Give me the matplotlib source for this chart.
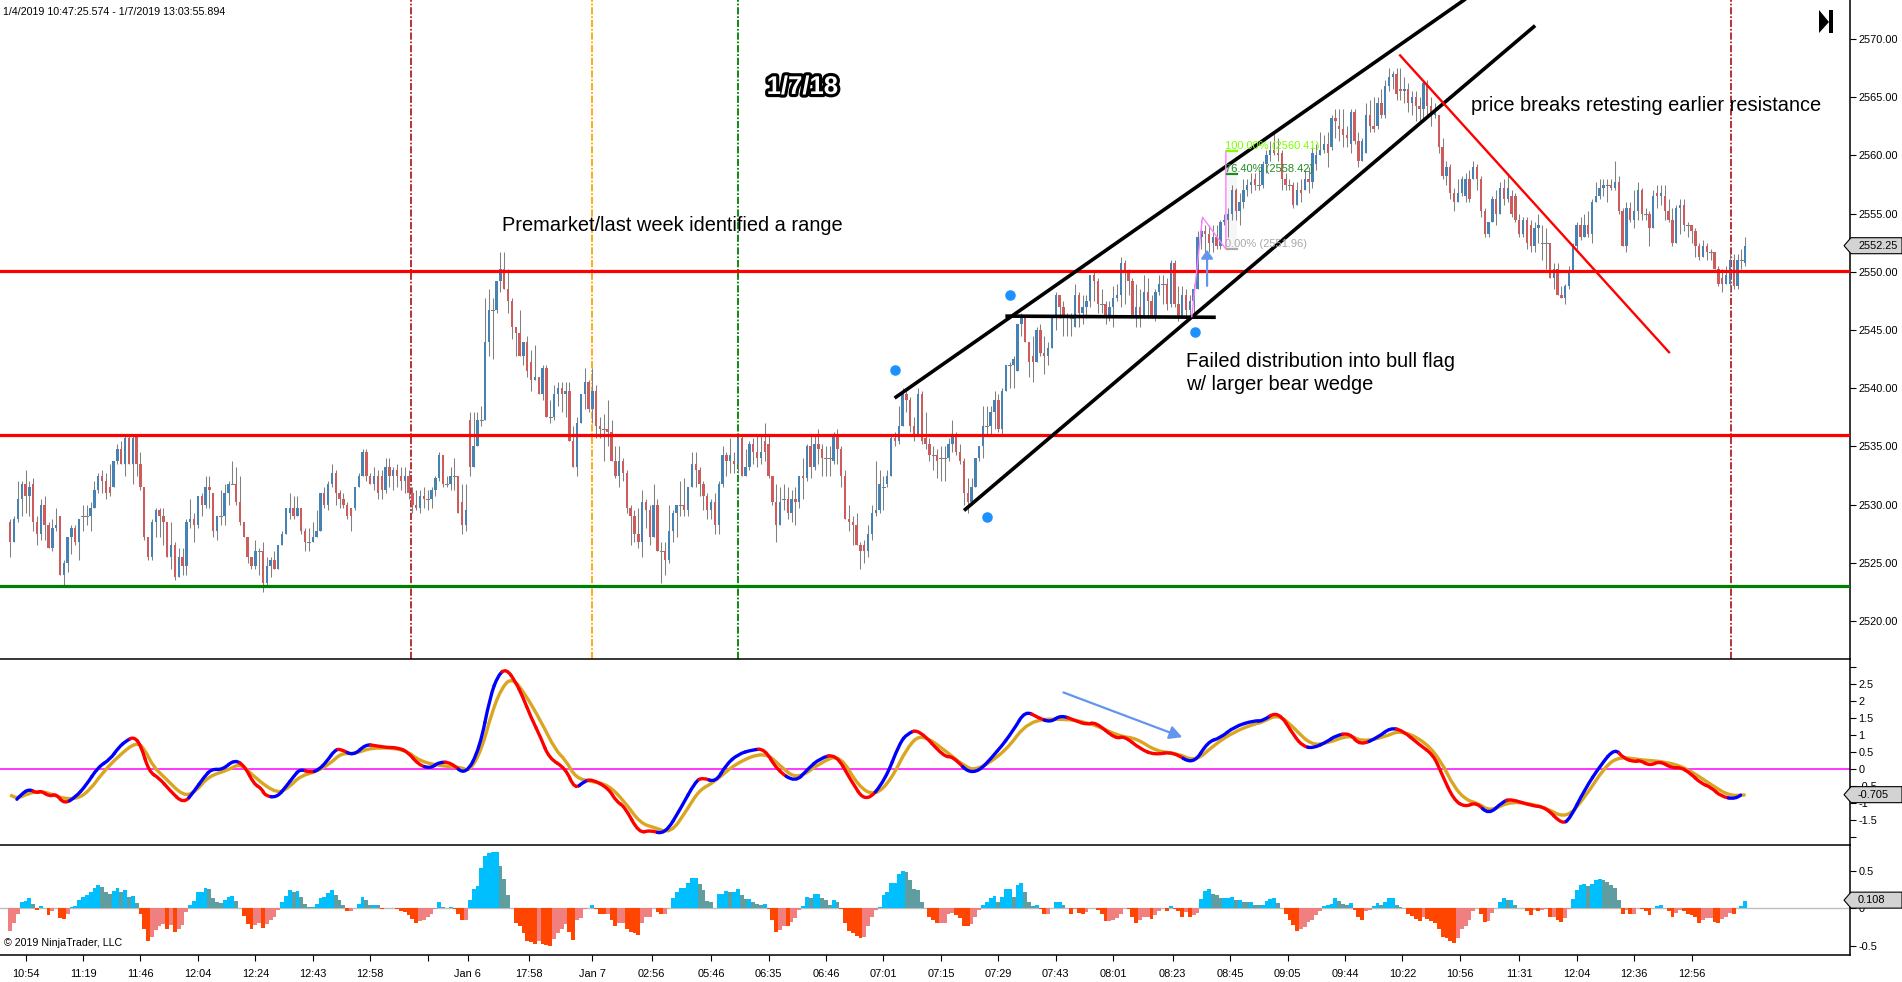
import matplotlib
matplotlib.use("Agg")
import matplotlib.pyplot as plt
import matplotlib.patheffects as pe
from matplotlib.patches import PathPatch, Polygon, Rectangle
from matplotlib.path import Path
from matplotlib.transforms import IdentityTransform

plt.rcParams["font.family"] = ["Liberation Sans", "DejaVu Sans"]

BASE = 2500  # prices below are stored as points above this

opens = [
28.5,26.75,28.75,30.5,31.75,30.75,31.75,28.5,27.5,30,
28.25,26.25,28,29,24,25,27.25,28,26.75,29,
29,29,29.75,31.25,32.5,32,31.5,31.5,33.75,34.75,
33.5,35.75,33.5,36,33.5,31.5,27.25,25.5,28.5,29.5,
29,28.5,25.5,26.5,23.75,25.5,24.75,28.5,28.75,28.25,
30.75,30,31.5,31,27.75,29,29,31,31.75,31.75,
30.25,28.5,27.25,25.5,24.75,26,26,23.25,24.75,25.25,
24.5,26.5,27.5,29.25,29.75,29,29.75,27.75,26.75,26.75,
27.25,27.75,31,30,31.75,32.75,31,30.5,30,29.75,
29.75,31.5,32.5,34.5,32.5,31.75,32.5,32.5,31.25,33.25,
32.5,33,32.5,32,32.5,31,30,29.75,30.75,30.5,
30.5,31.25,32.25,34.25,31.75,31.75,32.5,32.5,30.25,28.25,
37.25,33.25,35,37.25,37.25,44,46.75,46.75,49.25,50.25,
48.5,47.5,45.25,44.75,42.75,44,42.25,40.75,41,39.5,
41.75,37.5,37.5,39.5,40,39.5,39.75,35.5,33.25,37,
39.5,40.5,38.25,39.75,36.75,36.5,36.5,36.25,33.75,32.5,
33.75,32.75,29.75,29,27.5,26.75,30.25,29.5,27.25,30,
26,26,25.25,27.75,29.25,30,30,29.5,31.5,33.5,
33,31.75,30.75,29.5,30.25,28.25,31.75,34.25,33.75,33.75,
33.5,35.75,32.5,33.25,35.25,34.5,34,35.5,35.25,32.5,
30.25,28.25,30.5,30.5,29.25,30.5,30.25,32.5,32.25,35,
33.25,35.25,34.75,34,34,33.75,36,34.75,32.5,28.75,
28.5,28.25,26.5,26.5,26,27.5,29.25,29.5,31.5,31.75,
32.5,35.75,35.5,36.75,39.5,39,36.75,36,39.5,35.75,
35.25,34.25,34.25,34,34,34,35.25,36,34.5,33.75,
31,30.25,31.5,34,35,36.75,36.75,38,39,36.5,
39.75,42,42,41.5,45.5,46,44,42.75,42.25,45,
43,42.75,43.5,46,48,47,46.25,46,45.25,48,
46.5,47,47.5,49.75,49.25,47.25,47.25,46,47,47.75,
48,50.75,50,49.25,46.25,47,46.25,48.25,47.5,46.25,
48.25,49,49,47.25,50.75,47.25,46.25,48,46.75,47.5,
48.5,53,53.5,53.25,52.5,53,52.25,54.25,54.5,55,
57,55.25,56,57,57.5,58,57.5,57.5,59.25,60,
60.5,60.25,60.25,58,57.5,57.5,55.75,57,57,58,
57.75,59.25,60,60.5,61,60.75,63.25,62.5,62.25,61.75,
61,63.75,61.25,59.5,60.25,63.5,62.5,62.5,64.5,63.5,
66,66.75,67,65.75,65.5,65.75,64.5,65,64.25,64,
66.25,64.25,63.5,63.5,60.75,58.25,59,56.75,56,56.75,
56.5,58,58,59,58,55.25,53.25,54.25,56.25,55,
57.25,56.25,56.5,56.5,54.5,53.25,54.5,54,52.25,53.75,
52.5,52.5,52.5,49.5,50.25,48,47.75,48.75,50,52.25,
54,53,54,53.25,56,56.5,57.25,57.5,57.5,57.25,
57.75,55.25,52.25,55.5,54.5,55.25,57,55,55,53.75,
56.75,56.5,56.5,55.25,54.5,52.5,55.5,55.75,54,54,
53.5,52.25,51.25,52.25,51.75,51.75,50.25,49.5,49,49,51,48.75,51,50.75]

closes = [
26.75,28.75,30.5,31.75,30.75,31.5,28.5,27.5,30,28.25,
26.25,28,28.25,24,25,27.25,28,26.75,28.75,29,
29,29.75,31.25,32.5,32,31,31,33.75,34.75,33.5,
35.75,33.5,35.75,33.5,31.5,27.25,25.5,28.5,29.5,29,
28.5,25.5,26.5,23.75,25.5,24.75,28.5,28.75,28.25,30.75,
30,31.5,31.25,27.75,29,29,31,31.75,31.75,30.25,
28.5,27.25,25.5,24.75,26,26,23.25,24.75,25.25,24.5,
26.5,27.5,29.75,29.75,29,29.75,27.75,26.75,26.75,27.25,
27.75,31,30,31.75,32.75,31,30.5,30,29,29,
31.5,32.5,34.5,32.5,31.75,32.5,31,31.25,33.25,32.5,
33,32.5,32,32.5,31,30,29.75,30.75,30.5,30.5,
31.25,32.25,34.25,31.75,31.75,32.5,32.5,29.25,28.25,29.5,
33.25,35,37.25,37.25,44,46.75,46.75,49.25,50.25,48.5,
47.5,45.25,44.75,42.75,44,41.5,40.75,41,39.5,41.75,
37.5,37.5,39.5,40,39.5,39.75,35.5,33.25,37,39.5,
40.5,38.25,39.75,36.75,36.5,36.5,36.25,33.75,32.5,33.75,
32.75,29.75,29,27.5,26.75,30.25,29.5,27.25,30,26,
26,25.25,27.75,29.25,30,30,29.5,31.5,33.5,33,
31.75,30.75,29.5,30.25,28.25,31.75,34.25,33.75,34.25,33.5,
35.75,32.5,33.25,35.25,34.5,34,34.5,34.5,32.5,30.25,
28.25,30.25,30.5,29.25,30.5,30.25,32.5,32.25,35,33.25,
35.25,34.75,34,34,34,36,34.75,32.5,28.75,28.5,
28.25,26.5,26,26,27.5,29.25,29.5,31.75,31.5,32.5,
35.75,35.5,36.75,39.5,39,36.75,36,39.5,35.5,35.25,
34.25,34.25,33.75,34,34,35.25,36,34.5,33.75,31,
30.25,31.5,34,35,36.75,36.75,38,39,36.5,39.75,
42,42,42.5,45.5,46,44,42.25,42.25,45,43,
42.75,43.5,46,48,47,46.25,46,46,48,46.5,
47,47.5,49.75,49.25,47.25,47.25,46,47,47.75,48,
50.75,50,49.25,46.25,47,46.25,48.25,47.5,46.25,48.25,
49,49,47.25,50.75,47.25,46.25,48,46.75,47.5,48.5,
53,53.5,53.25,52.5,53,52.25,54.25,54.5,55,57,
55.25,56,57,57.5,57.75,57.5,57.5,59.25,60,60.5,
60.25,60,58,57.5,57.5,55.75,57,56.75,58,57.75,
60.25,60,60.5,61,60.25,63.25,63,62.25,61.75,61.5,
63.75,61.25,59.5,61.25,63.5,62.5,62.25,64.5,63.5,66,
66.75,67,65.25,65.5,65.75,64.5,65,64.25,64,66.25,
64.25,63.5,63.75,60.75,58.25,59,56.75,56,56.75,58,
58,56.25,59,58,55.25,53.25,54.25,56.25,55,57.25,
56.25,57.25,55,54.5,53.25,54.5,52.5,52.25,53.75,54,
52.5,52.5,49.5,50.25,48,47.75,48.75,50,52.25,54,
53,54,53.25,56,56.5,57.25,57.5,57.5,57.25,57.75,
55.25,52.25,55.5,54.5,55.25,57,55,55,53.75,56.5,
56.5,56.75,55.25,54.5,52.5,55.5,55.75,54,54,53.5,
52.25,51.25,52.25,51.75,51.75,50.25,49,49,49.75,51,48.75,51,51,52.25]

highs = [
28.75,29,32,32,33,32,32.25,29,30.5,30.75,
28.5,28.75,29.75,29,25.25,27.25,28.25,28.25,28.75,30,
30,30.25,32,32.75,33,32.75,33.5,33.75,35.25,35.5,
36,36,36,36,34.5,31.5,27.25,28.75,29.75,29.75,
29.75,28.5,28.5,26.75,26.25,26.25,28.75,30.5,29.25,30.75,
31,32.5,32.5,31,29,31.25,31.75,32,33.75,33.25,
32.5,28.5,27.25,25.5,27,26.25,26.75,25.5,25.5,26,
26.5,27.75,29.75,31,30.75,30.75,29.75,28,28,28.5,
29.5,31,31.5,32,33.5,33,31.25,31,30.25,29.75,
31.5,32.75,34.75,34.75,32.75,33.25,33,33,34,34,
33.25,33.5,33.25,33.25,33,31.5,31.25,31.25,31.5,31.25,
31.5,32.5,34.5,34.25,32.5,33.25,34,32.5,31.75,31.75,
38,38,38,38.5,47.75,48.5,47.75,49.25,51.75,51.75,
50.25,47.75,45.25,46.75,44,44.5,43.25,43.75,41,42,
42,39,40.25,40.5,40.5,40.5,40.5,36.75,37.5,39.5,
41.75,40.75,41.75,40.25,37.5,37.75,39,37.25,35,35,
34,33,30,29.5,29.75,31.25,30.5,30,31.75,30.5,
26.75,26.75,30,29.5,30,32,32.25,31.5,34.5,34.5,
33.25,32,31,30.5,31,32,35,34.5,35.75,34.5,
36,36,34.75,35.5,35.75,36,36,37,36,32.5,
31.75,31.5,31.75,31.5,31.25,31.5,32.5,34,35.25,36,
36,36.5,35.25,35,35,36.25,36.5,35,33,30,
29,29.25,26.75,27,28.25,30,33.75,33,32.5,33,
36,36.25,38.5,40,39.75,39.25,37.5,40,39.75,38,
35.75,35,34.75,35,35,35.75,37.25,36.25,35.25,34,
32.25,32.25,34,35,38.5,38.5,38.5,39.75,39.5,40,
42,42.25,42.75,45.5,46.5,46,44,44.5,45.25,45.5,
44.5,44,46,48.25,48,47.5,46.5,46.5,49,48.25,
48,48,49.75,50,49.5,48.5,47.5,47.5,48.75,49,
51.25,51,50.25,49.5,49,48.5,49.75,49.5,48,48.5,
49.75,49.75,49.5,51,51,48.75,48.75,48.5,48,49,
53.5,54.5,54,54,54,54,54.5,55,55.5,57.5,
57.25,56.75,58,58,58.5,58.5,58.75,59.5,60.5,61.25,
62,61.5,60.5,58.5,58,57.75,57.75,58,58.75,59,
60.75,61,62,61.75,62,63.5,64,64,64,62.5,
64,64,62,61.5,64.5,64.75,65,65,65.75,66.5,
67.5,67.25,67.5,67.5,66.75,66.25,65.5,65.5,65,66.5,
66.5,65,64.5,63.5,61.5,59.5,59.25,57.25,58,58.25,
58.5,58.75,59.5,59.25,58.25,55.5,54.25,56.5,57,57.75,
58,58.5,57,56.75,55,54.75,54.75,54.5,54.25,55,
54,53.75,52.5,50.75,50.75,48.75,49,50.5,52.5,54.25,
54.75,55,55.25,56.25,57.75,58,58,58,58,59.5,
58.25,55.5,56,56,57,57.75,57.25,55.5,55.25,57,
57.5,57.5,57.5,56.25,55.5,55.75,56.25,56.25,54.25,54,
53.75,52.5,52.75,52.5,52,51.75,50.5,50.25,50.5,51.5,51.5,51.5,52,53]

lows = [
25.5,26.75,28.5,29,29.25,29,27.75,26.5,27,27,
26.25,26,27.75,24,23,24.25,25.75,26.5,25.25,27.75,
28.25,27.75,29.75,31,31,30.5,30.75,31.5,33.5,33.5,
32.5,33.5,31.75,32.5,31.25,27,25.25,25.25,27.25,27.25,
26.5,25.5,24.5,23.5,23.75,24,24,28,26.75,28,
29,29.75,29.75,27.25,27,28.25,28.25,30,31.75,30,
28.25,27.25,25,24.5,24.5,24,22.5,23,23.75,24.5,
24.5,26.5,27.5,28.75,28.75,29,27.5,26,26,26.75,
27.25,27.75,29.75,29.5,31.5,30,29.75,29.75,28.75,27.75,
29.5,31.5,32.5,32,31.75,31.25,30.5,30.5,31,31.5,
31.25,31.5,31.25,31,30.5,29.25,29.5,29.25,29.75,29.5,
29.75,30.75,32,31.5,31.5,31.25,31.25,29.25,27.5,27.75,
32.5,33.25,35,36.75,37.25,42.75,42.5,46.5,48.25,48.5,
46.5,44.25,42.75,42.75,42,41,39.75,40.75,39.5,39,
37.5,37,37.25,38.5,38,37.5,35.5,33.25,32.5,37,
38.25,38,37,35.75,35.75,33.75,35,33.75,32.25,31.5,
32,29.25,26.5,26.75,26.25,25.5,28,26.5,27.25,26,
23.25,24,25,26.75,27.25,29,29,29,31.5,31.5,
30.75,29.5,28.75,28.75,27.5,27.5,31.5,32.5,32.75,32.75,
32.75,32.5,32.5,33,33.5,33.25,33.5,33.75,32.25,30,
26.75,28.25,29.5,28.75,28.5,28.25,29.75,30.5,32,32.25,
33,33.5,32.5,32.5,32.5,33.5,33.5,31.5,28.75,27.75,
26.5,26.5,24.5,25,25.5,27,29,29.25,29.5,31.5,
32.5,35,35.25,36.75,38,36.25,35.5,36,35.25,34.75,
33.75,33,32.25,32,32,33.75,34.5,34.25,33.5,30,
29.25,30,31.5,33.75,34,36,36,36.5,36.25,36,
39.75,40,40,41.5,44.5,44,41,40.5,42.25,42.75,
41.25,42,43.5,45,46,44.5,44.5,44.5,45.25,45.25,
45.5,46,47,47.5,46.5,46.5,45.5,45.75,45.25,47.5,
47,47.25,48,46.25,45.25,45.25,46,46,46,45.75,
48,47.25,46.75,47,47,45.75,46,46,46,46.25,
48.5,52,51.75,51.75,51.75,52,52,54,53,54.5,
54.5,54,55.5,56.5,56.75,57,57,57.25,58.5,59.5,
60,59.5,57,57,57,55.5,55.75,56,57,56.75,
57.25,58.75,60,60.25,59,60.5,61.5,61.25,60.75,60.75,
60.25,61,59,59.5,60.25,62,62,62.25,63.25,63.25,
65.5,65.75,64.75,64.75,64.5,63.75,63.5,63,63,63,
63.25,62.5,63.25,60.25,58,57.5,56.25,55.25,56,56.5,
56,56,58,57,54.75,53,53,54.25,54,55,
55.75,56,54.75,54.25,53,53,52,51.75,51.75,52.5,
51,50.25,49.5,48.5,48,47.75,47.25,48.5,50,52,
52.75,53,53,52.5,56,56.25,56.5,56,57,57,
55,52.25,51.75,54.25,53.75,54.5,54.5,54.5,52.25,53.75,
55.5,55.75,54.5,54.25,52.25,52.5,53.25,53.5,53,52.5,
51.25,51,51.25,51,51,50.25,48.75,48.25,49,48.25,48.5,48.5,50.25,50.5]

macd_bar = [0.5,3,5,6.9,8,10.3,12,14.1,17,19.7,22.9,26.1,28.3,30.4,32.3,34.1,36.2,38.9,41.6,45.3,
48,50.6,52.6,55.4,58.6,61.3,63.6,65.6,66.6,69.6,72,74.1,75.7,78.4,80.5,82.6,84.8,86.4,89.6,92.8,
95.4,98.1,101.3,103.9,106.6,109.8,111.9,115.1,118.9,122.6,125.3,127.4,129.5,131.9,133.8,135.9,138.6,140.7,145,147.4,
149.8,151.9,156.2,158.3,160.4,164.2,167.1,170.9,175.1,178.9,180.8,184.2,186.9,190,193.8,197,200.2,205,208.2,211.4,
215.6,219.4,223.4,228.4,232.2,234.3,237.3,243.9,246,251.4,257.8,262,265,268.4,271.6,274.3,278,281.2,283.3,288.7,
290.8,295.1,298.8,303.6,308.9,312.7,315.9,319.6,324.9,326.8,331.1,335.3,337.5,340.1,343.9,346,349.7,352.4,357.2,360.4,
363.6,367.8,371.6,373.7,376.9,379.9,382.8,386,389.7,391.8,397.2,400.9,405.2,407.3,411,415.3,419,421.2,424.3,425.4,
428.1,430.7,433.9,436.1,438.7,441.4,444.1,446.7,450.5,453.1]
macd_val = [-1.04,-.72,-.58,-.70,-.63,-.80,-.72,-1.02,-.82,-.49,.06,.29,.64,.84,.95,.71,-.07,-.26,-.61,-1.02,
-.65,-.23,.01,-.02,.29,.08,-.43,-.56,-.78,-.83,-.51,-.20,.01,-.10,-.02,.22,.57,.59,.39,.73,
.69,.64,.63,.50,.13,.02,.21,.20,-.19,.62,2.13,2.76,2.95,2.57,2.13,1.54,.91,.32,.03,-.59,
-.36,-.29,-.56,-.95,-1.09,-1.88,-1.78,-1.92,-1.14,-.36,-.24,-.39,.13,.44,.57,.60,-.02,-.39,0,.32,
.45,-.31,-1.0,-.33,.76,1.05,1.17,.35,.39,-.24,.52,1.15,1.72,1.51,1.37,1.59,1.43,1.30,1.39,.88,
.98,.59,.42,.52,.12,.81,.91,1.25,1.43,1.40,1.72,.96,.68,.61,.81,.98,1.07,.69,.94,1.22,
1.13,.73,.42,-.12,-.90,-1.11,-.96,-1.34,-.95,-.87,-1.07,-1.11,-1.62,-1.44,-.61,.13,.62,.32,.21,.27,
.10,.24,.03,.06,-.12,-.41,-.53,-.80,-.88,-.64]

signal_bar = [0,1.6,4.8,8,10.7,13.3,17.6,20.8,24,28.3,33,35.2,37.3,40.5,45.3,48.5,51.7,57,60.2,64,
69.8,73,75.7,80,83.7,86.4,90.1,94.3,102.9,107.1,113.5,117.8,119.9,123.1,125.8,128.5,131.1,134.3,138.6,142.3,
145,147.7,151.9,156.2,160.4,164.5,168.2,172.5,176.7,179.9,183.7,189.5,197,201.2,205.5,211.9,216.7,221.5,225.8,230,
234.3,238,245,249.2,252.4,259.9,265.8,274.8,282.3,289.7,294,299.3,304.7,309.5,314.3,319.6,324.9,326.8,331.1,335.3,
339.6,343.9,349.7,352.9,358.8,363,369.4,373.7,376.9,380.1,383.3,386.5,391.8,400.4,406.2,411,416.4,420.1,425.9,432.3,
437.7,444.6,448.9,453.1]
signal_val = [-.75,-.88,-.70,-.65,-.72,-.85,-.87,-.61,-.12,.39,.81,.57,.08,-.26,-.80,-.65,-.21,-.02,.18,-.26,
-.73,-.51,-.20,-.07,.18,.47,.45,.64,.60,.22,.08,.06,-.07,.57,1.69,2.42,2.68,2.23,1.40,.57,
.27,-.26,-.36,-.46,-.95,-1.58,-1.71,-1.88,-1.19,-.61,-.39,.18,.52,.08,-.31,.22,.42,-.51,-.78,-.31,
.66,1.05,.47,.08,-.04,.52,1.43,1.49,1.35,.96,.91,.52,.47,.22,.71,1.10,1.33,1.37,1.62,1.20,
.71,.76,1.01,.81,.94,1.15,.81,.22,-.51,-.90,-1.0,-1.24,-.92,-1.09,-1.46,-.85,.08,.37,.27,.22,
.03,-.49,-.78,-.75]

hist = [
-.30,-.19,-.07,.08,.10,.14,.06,-.02,.03,0,-.09,-.04,.01,-.13,-.14,-.07,.02,.03,.11,.15,
.17,.21,.27,.31,.28,.22,.19,.23,.27,.22,.24,.15,.16,.07,-.07,-.28,-.43,-.38,-.29,-.24,
-.21,-.28,-.22,-.31,-.27,-.22,-.05,.05,.10,.21,.22,.27,.25,.13,.09,.07,.11,.15,.16,.10,
0,-.10,-.21,-.27,-.22,-.20,-.26,-.21,-.16,-.12,-.02,.08,.16,.24,.22,.23,.15,.06,.02,.02,
.06,.13,.15,.20,.24,.18,.11,.04,-.04,-.04,.01,.06,.15,.11,.05,.05,.04,-.01,.01,0,
0,-.01,-.04,-.05,-.09,-.14,-.19,-.17,-.16,-.11,-.07,-.01,.08,.02,.01,.02,-.01,-.07,-.16,-.16,
.11,.25,.30,.54,.70,.73,.75,.75,.56,.39,.17,0,-.19,-.23,-.33,-.43,-.45,-.47,-.44,-.47,
-.49,-.50,-.41,-.33,-.27,-.21,-.31,-.42,-.16,-.13,-.01,.01,.04,-.01,-.07,-.08,-.08,-.15,-.24,-.20,
-.19,-.27,-.31,-.33,-.35,-.19,-.11,-.11,0,-.05,-.08,-.08,0,.13,.22,.27,.27,.33,.40,.40,
.32,.24,.10,.09,0,.19,.19,.23,.21,.21,.25,.17,.12,.12,.08,.06,.04,.06,-.01,-.16,
-.31,-.29,-.23,-.24,-.18,-.13,-.02,.03,.15,.13,.19,.19,.13,.11,.05,.11,.09,-.01,-.20,-.30,
-.33,-.37,-.39,-.38,-.23,-.12,-.02,.02,.17,.22,.33,.33,.45,.50,.48,.37,.25,.24,.09,0,
-.11,-.16,-.20,-.20,-.19,-.08,-.06,-.09,-.13,-.23,-.24,-.21,-.12,-.02,.04,.08,.14,.16,.09,.15,
.26,.26,.15,.31,.33,.21,.09,.03,.05,-.01,-.07,-.07,0,.08,.08,.04,0,-.08,-.01,-.06,
-.07,-.05,0,.01,-.02,-.08,-.17,-.17,-.15,-.13,-.08,0,-.01,-.12,-.19,-.16,-.11,-.11,-.14,-.09,
-.04,0,-.04,.03,-.01,-.04,-.11,-.05,-.12,-.09,-.06,.12,.23,.25,.19,.17,.13,.14,.14,.15,
.11,.11,.09,.08,.08,.05,.04,.04,.10,.12,.13,.07,0,-.07,-.16,-.22,-.30,-.27,-.25,-.18,
-.16,-.09,-.03,.03,.05,.06,.13,.10,.06,.04,.07,-.02,-.12,-.15,-.04,-.02,.03,.07,.04,.09,
.13,.14,.05,.02,0,-.07,-.10,-.14,-.17,-.11,-.14,-.17,-.19,-.27,-.38,-.39,-.44,-.46,-.40,-.27,
-.23,-.15,-.03,0,-.08,-.18,-.17,-.06,0,.09,.14,.11,.11,.04,0,0,-.03,-.09,-.02,-.04,
-.02,-.01,-.11,-.11,-.15,-.18,-.13,-.01,.12,.24,.31,.32,.30,.32,.38,.39,.37,.35,.31,.27,
.11,-.07,-.02,-.07,-.07,.01,-.01,-.04,-.09,0,.03,.04,0,-.03,-.11,-.06,-.02,-.04,-.07,-.09,
-.11,-.19,-.16,-.13,-.13,-.18,-.19,-.14,-.12,-.06,-.08,0,.03,.10]

tick_bars = [4,19,34,49,64,79,94,109,119.5,135.5,152,167.5,183,198,213,228,243,258,273,288,303.5,318.5,333.5,348.5,363.5,378.5,394,409,424,439]
tick_labels = ["10:54","11:19","11:46","12:04","12:24","12:43","12:58","","Jan 6","17:58","Jan 7","02:56","05:46","06:35","06:46","07:01","07:15","07:29","07:43","08:01","08:23","08:45","09:05","09:44","10:22","10:56","11:31","12:04","12:36","12:56"]

session_bars = [104.6,151.9,190,449.3]
session_colors = ["#B22222","#FFA500","#008000","#B22222"]
levels = [2550.1,2536,2523]
level_colors = ["#FF0000","#FF0000","#008000"]

W, H = 1902, 982
STEP = 3.83
FIRST_X = 10.2
AXIS_RIGHT = 1850
YS = [0, 659, 845, 955]
TICK_FS = 7.9

fig = plt.figure(figsize=(W / 100, H / 100), dpi=100, facecolor="white")


def make_axes(top, bottom):
    ax = fig.add_axes([0, 1 - bottom / H, AXIS_RIGHT / W, (bottom - top) / H])
    ax.set_xlim(-FIRST_X / STEP, (AXIS_RIGHT - FIRST_X) / STEP)
    for side in ["left", "top", "bottom"]:
        ax.spines[side].set_visible(False)
    ax.spines["right"].set_linewidth(1.1)
    ax.yaxis.tick_right()
    ax.tick_params(axis="y", labelsize=TICK_FS, length=4, width=0.8, pad=2)
    ax.set_xticks([])
    return ax


ax_price = make_axes(YS[0], YS[1])
ax_macd = make_axes(YS[1], YS[2])
ax_hist = make_axes(YS[2], YS[3])
ax_price.set_ylim(2516.74, 2573.36)
ax_macd.set_ylim(-2.22, 3.23)
ax_hist.set_ylim(-0.62, 0.84)

for ax in [ax_macd, ax_hist]:
    ax.spines["top"].set_visible(True)
    ax.spines["top"].set_linewidth(1.1)
ax_hist.spines["bottom"].set_visible(True)
ax_hist.spines["bottom"].set_linewidth(1.1)

# price panel
ax_price.set_yticks([2520,2525,2530,2535,2540,2545,2550,2555,2560,2565,2570])
ax_price.set_yticklabels(["%.2f" % v for v in [2520,2525,2530,2535,2540,2545,2550,2555,2560,2565,2570]])

for x, c in zip(session_bars, session_colors):
    ax_price.axvline(x, color=c, lw=1.3, ls=(0, (4, 1, 1, 1)), zorder=1)

for i, (o, c, h, l) in enumerate(zip(opens, closes, highs, lows)):
    ax_price.plot([i, i], [BASE + l, BASE + h], color="#808080", lw=0.75, zorder=2, solid_capstyle="butt")
    if o == c:
        ax_price.plot([i - 0.4, i + 0.4], [BASE + c, BASE + c], color="#808080", lw=0.75, zorder=3)
    else:
        color = "#4682B4" if c > o else "#CD5C5C"
        ax_price.bar(i, abs(c - o), bottom=BASE + min(o, c), width=0.62, color=color, lw=0, zorder=3)

for y, c in zip(levels, level_colors):
    ax_price.axhline(y, color=c, lw=2.3, zorder=4)

# channel, flag and break lines, drawn as (bar, price)
ax_price.plot([231.3, 379.6], [2539.25, 2573.36], color="black", lw=2.6, zorder=5)
ax_price.plot([249.4, 397.8], [2529.6, 2571.06], color="black", lw=2.6, zorder=5)
ax_price.plot([260.3, 314.3], [2546.2, 2546.1], color="black", lw=2.6, zorder=5)
ax_price.plot([362.9, 433.1], [2568.6, 2543.1], color="#FF0000", lw=1.7, zorder=5)
ax_price.plot([231, 261, 309.4, 255.1], [2541.55, 2548, 2544.8, 2528.9], "o", color="#1E90FF", ms=7.6, mew=0, zorder=6)

# fib retracement
fib_color = "#FF80FF"
ax_price.add_patch(Rectangle((317.4, 2551.96), 3, 8.45, color="#F6F6F6", lw=0, zorder=1))
ax_price.plot([308.5, 311.3, 317.4, 317.4], [2546.15, 2554.7, 2551.96, 2560.41], color=fib_color, lw=1.0, zorder=6)
fib_levels = [2560.41, 2558.42, 2551.96]
fib_names = ["100.00% (2560.41)", "76.40% (2558.42)", "0.00% (2551.96)"]
fib_colors = ["#7FFF00", "#228B22", "#A9A9A9"]
for y, name, c in zip(fib_levels, fib_names, fib_colors):
    ax_price.plot([317.6, 320.4], [y, y], color=c, lw=1.6, zorder=6)
    ax_price.text(317.2, y, name, color=c, fontsize=8.0, va="bottom", ha="left", zorder=7)
ax_price.annotate("", xy=(312.5, 2551.9), xytext=(312.5, 2548.8),
                  arrowprops=dict(arrowstyle="-|>,head_width=0.35,head_length=0.5", color="#6495ED", lw=1.6, shrinkA=0, shrinkB=0), zorder=7)

# macd panel
ax_macd.set_yticks([-2,-1.5,-1,-0.5,0,0.5,1,1.5,2,2.5,3])
ax_macd.set_yticklabels(["","-1.5","-1","-0.5","0","0.5","1","1.5","2","2.5",""])
ax_macd.axhline(0, color="#FF00FF", lw=1.1, zorder=1)


def mid(xs, ys, k):
    return ((xs[k] + xs[k + 1]) / 2, (ys[k] + ys[k + 1]) / 2)


# signal line, rounded between the read points
verts = [(signal_bar[0], signal_val[0])]
codes = [Path.MOVETO]
for k in range(1, len(signal_bar) - 1):
    verts += [(signal_bar[k], signal_val[k]), mid(signal_bar, signal_val, k)]
    codes += [Path.CURVE3, Path.CURVE3]
verts.append((signal_bar[-1], signal_val[-1]))
codes.append(Path.LINETO)
ax_macd.add_patch(PathPatch(Path(verts, codes), fill=False, ec="#DAA520", lw=2.4, zorder=2))

# macd line, blue while rising and red while falling
for k in range(1, len(macd_bar) - 1):
    a = mid(macd_bar, macd_val, k - 1)
    b = mid(macd_bar, macd_val, k)
    c = "#0000FF" if b[1] >= a[1] else "#FF0000"
    p = Path([a, (macd_bar[k], macd_val[k]), b], [Path.MOVETO, Path.CURVE3, Path.CURVE3])
    ax_macd.add_patch(PathPatch(p, fill=False, ec=c, lw=2.4, capstyle="round", zorder=3))

ax_macd.annotate("", xy=(306, 0.94), xytext=(275, 2.25),
                 arrowprops=dict(arrowstyle="-|>,head_width=0.4,head_length=0.75", color="#6495ED", lw=1.6, shrinkA=0, shrinkB=0))

# histogram panel
ax_hist.set_yticks([-0.5, 0, 0.5])
ax_hist.set_yticklabels(["-0.5", "0", "0.5"])
hist_colors = []
for i, v in enumerate(hist):
    prev = hist[i - 1] if i else v
    if v >= 0:
        hist_colors.append("#00BFFF" if v >= prev else "#5F9EA0")
    else:
        hist_colors.append("#FF4500" if v < prev else "#F08080")
ax_hist.bar(range(len(hist)), hist, width=1.0, color=hist_colors, lw=0, zorder=2)
ax_hist.axhline(0, color="#BEBEBE", lw=1, zorder=1)

ax_hist.xaxis.tick_bottom()
ax_hist.set_xticks(tick_bars)
ax_hist.set_xticklabels(tick_labels)
ax_hist.tick_params(axis="x", labelsize=TICK_FS, length=4, width=0.8, pad=6)


def value_tag(ax, value, label):
    x, y = ax.transData.transform((ax.get_xlim()[1], value))
    half = 8
    pts = [(x - 6, y), (x + 1, y + half), (W, y + half), (W, y - half), (x + 1, y - half)]
    fig.add_artist(Polygon(pts, closed=True, fc="#D3D3D3", ec="black", lw=0.8, transform=IdentityTransform(), zorder=8))
    fig.text((x + 8) / W, y / H, label, fontsize=TICK_FS, va="center", ha="left", zorder=9)


value_tag(ax_price, 2552.25, "2552.25")
value_tag(ax_macd, -0.745, "-0.705")
value_tag(ax_hist, 0.108, "0.108")


def label(x, y, s, **kw):
    fig.text(x / W, 1 - y / H, s, **kw)


label(3, 12, "1/4/2019 10:47:25.574 - 1/7/2019 13:03:55.894", fontsize=7.7, va="center", zorder=9)
label(4, 943, "\u00a9 2019 NinjaTrader, LLC", fontsize=7.7, va="center", zorder=9)
label(502, 225.5, "Premarket/last week identified a range", fontsize=14.4, va="center", zorder=9)
label(1186, 361.5, "Failed distribution into bull flag", fontsize=14.4, va="center", zorder=9)
label(1186, 384.5, "w/ larger bear wedge", fontsize=14.4, va="center", zorder=9)
label(1471, 105.5, "price breaks retesting earlier resistance", fontsize=14.4, va="center", zorder=9)
label(802.5, 87, "1/7/18", fontsize=18.5, fontweight="bold", color="white", va="center", ha="center", zorder=9,
      path_effects=[pe.withStroke(linewidth=4.5, foreground="black")])

# skip-to-end icon, top right
fig.add_artist(Polygon([(1819, H - 10), (1819, H - 33), (1829, H - 22)], closed=True, fc="black", lw=0, transform=IdentityTransform()))
fig.add_artist(Rectangle((1829, H - 33), 4, 23, fc="black", lw=0, transform=IdentityTransform()))

fig.savefig("out.png", dpi=100)
